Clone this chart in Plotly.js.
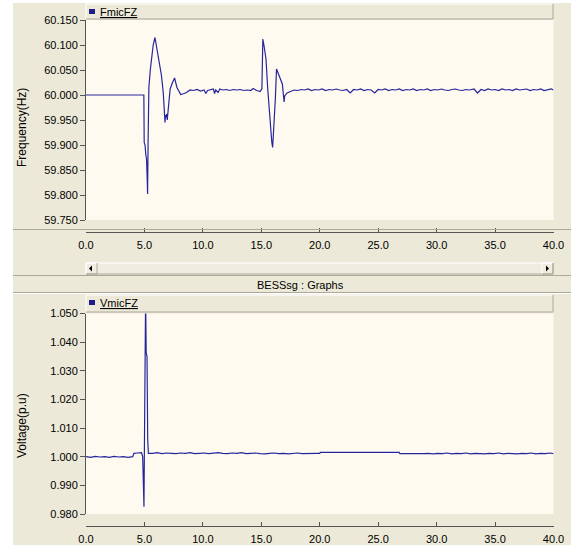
<!DOCTYPE html>
<html>
<head>
<meta charset="utf-8">
<script src="https://cdn.plot.ly/plotly-3.0.1.min.js"></script>
<style>
  html, body { margin: 0; padding: 0; background: #ECE9D8; }
  #graph { width: 571px; height: 545px; }
</style>
</head>
<body>
<div id="graph"></div>
<script>
// ---- Microgrid frequency (FmicFZ), Hz, against simulation time (s) ----
const freqTime = [
  0, 4.95, 4.98, 5.05, 5.12, 5.18, 5.24, 5.27, 5.31, 5.38, 5.5, 5.61, 5.75, 5.9,
  6.05, 6.27, 6.45, 6.61, 6.76, 6.8, 6.84, 6.9, 6.95, 7.05, 7.2, 7.4, 7.58, 7.78,
  8.1, 8.4, 8.6, 8.9, 9.2, 9.5, 9.8, 10.1, 10.25, 10.4, 10.7, 10.9, 11.0, 11.1,
  11.3, 11.45, 11.7, 12.0, 12.3, 12.6, 12.9, 13.2, 13.5, 13.8, 14.1, 14.3, 14.6,
  14.9, 15.05, 15.13, 15.23, 15.4, 15.55, 15.75, 15.9, 15.97, 16.1, 16.2, 16.3,
  16.45, 16.65, 16.8, 16.95, 17.0, 17.2, 17.5, 17.8, 18.1, 18.4, 18.7, 19.0,
  19.3, 19.6, 19.9, 20.2, 20.5, 20.8, 21.1, 21.4, 21.7, 22.0, 22.3, 22.6, 22.9,
  23.2, 23.5, 23.8, 24.1, 24.4, 24.7, 25.0, 25.3, 25.6, 25.9, 26.2, 26.5, 26.8,
  27.1, 27.4, 27.7, 28.0, 28.3, 28.6, 28.9, 29.2, 29.5, 29.8, 30.1, 30.4, 30.7,
  31.0, 31.3, 31.6, 31.9, 32.2, 32.5, 32.8, 33.2, 33.5, 33.8, 34.1, 34.4, 34.7,
  35.0, 35.3, 35.6, 35.9, 36.2, 36.5, 36.8, 37.1, 37.4, 37.7, 38.0, 38.3, 38.6,
  38.9, 39.2, 39.5, 39.8, 40.0
];
const freqHz = [
  60.000, 60.000, 59.905, 59.900, 59.880, 59.872, 59.830, 59.802, 59.900, 60.015,
  60.050, 60.079, 60.100, 60.115, 60.095, 60.069, 60.040, 60.005, 59.945, 59.960,
  59.955, 59.962, 59.950, 59.975, 60.012, 60.025, 60.034, 60.015, 60.001, 60.003,
  60.005, 60.010, 60.009, 60.011, 60.008, 60.010, 60.003, 60.009, 60.010, 60.012,
  60.003, 60.010, 60.005, 60.012, 60.010, 60.011, 60.009, 60.011, 60.010, 60.011,
  60.009, 60.010, 60.009, 60.013, 60.009, 60.007, 60.013, 60.112, 60.099, 60.072,
  60.012, 59.939, 59.905, 59.895, 59.940, 59.992, 60.052, 60.042, 60.032, 60.022,
  59.986, 59.998, 60.004, 60.007, 60.010, 60.009, 60.011, 60.010, 60.012, 60.009,
  60.011, 60.010, 60.012, 60.009, 60.011, 60.010, 60.012, 60.010, 60.009, 60.011,
  60.004, 60.011, 60.010, 60.012, 60.009, 60.011, 60.010, 60.004, 60.011, 60.010,
  60.012, 60.009, 60.011, 60.010, 60.012, 60.009, 60.011, 60.010, 60.012, 60.009,
  60.011, 60.010, 60.012, 60.009, 60.011, 60.010, 60.012, 60.010, 60.009, 60.011,
  60.012, 60.010, 60.009, 60.011, 60.010, 60.012, 60.004, 60.011, 60.009, 60.012,
  60.010, 60.011, 60.009, 60.012, 60.010, 60.011, 60.009, 60.012, 60.010, 60.011,
  60.012, 60.009, 60.011, 60.010, 60.012, 60.009, 60.011, 60.012, 60.010, 60.009
];

// ---- Microgrid voltage (VmicFZ), p.u., against simulation time (s) ----
const voltTime = [
  0, 0.4, 0.8, 1.2, 1.6, 2.0, 2.4, 2.8, 3.2, 3.6, 4.0, 4.1, 4.4, 4.75, 4.85, 4.92,
  4.96, 4.99, 5.04, 5.1, 5.15, 5.22, 5.28, 5.34, 5.7, 6.1, 6.5, 6.9, 7.3, 7.7,
  8.1, 8.5, 8.9, 9.3, 9.7, 10.1, 10.5, 10.9, 11.3, 11.7, 12.1, 12.5, 12.9, 13.3,
  13.7, 14.1, 14.5, 14.9, 15.3, 15.7, 16.1, 16.5, 16.9, 17.3, 17.7, 18.1, 18.5,
  18.9, 19.3, 19.7, 20.0, 20.05, 26.8, 26.85, 28.9, 29.3, 29.7, 30.1, 30.5,
  30.9, 31.3, 31.7, 32.1, 32.5, 32.9, 33.3, 33.7, 34.1, 34.5, 34.9, 35.3, 35.7,
  36.1, 36.5, 36.9, 37.3, 37.7, 38.1, 38.5, 38.9, 39.3, 39.7, 40.0
];
const voltPu = [
  1.0000, 0.9998, 1.0001, 0.9999, 1.0000, 0.9998, 1.0001, 0.9999, 1.0000, 0.9998,
  1.0000, 1.0012, 1.0013, 1.0014, 1.0000, 0.9918, 0.9825, 0.9990, 1.0350, 1.0560,
  1.0363, 1.0350, 1.0059, 1.0012, 1.0012, 1.0014, 1.0011, 1.0013, 1.0012, 1.0011,
  1.0013, 1.0012, 1.0014, 1.0011, 1.0012, 1.0013, 1.0011, 1.0012, 1.0014, 1.0012,
  1.0011, 1.0013, 1.0012, 1.0014, 1.0011, 1.0012, 1.0013, 1.0011, 1.0010, 1.0012,
  1.0013, 1.0011, 1.0012, 1.0010, 1.0012, 1.0013, 1.0011, 1.0012, 1.0011, 1.0012,
  1.0012, 1.0015, 1.0015, 1.0011, 1.0011, 1.0012, 1.0010, 1.0012, 1.0011, 1.0013,
  1.0010, 1.0012, 1.0011, 1.0013, 1.0010, 1.0012, 1.0011, 1.0010, 1.0012, 1.0011,
  1.0013, 1.0010, 1.0012, 1.0011, 1.0010, 1.0012, 1.0011, 1.0013, 1.0010, 1.0012,
  1.0011, 1.0013, 1.0011
];

// Axis ticks
const freqTicks = [59.75, 59.80, 59.85, 59.90, 59.95, 60.00, 60.05, 60.10, 60.15];
const voltTicks = [0.98, 0.99, 1.00, 1.01, 1.02, 1.03, 1.04, 1.05];
const timeTicks = [0, 5, 10, 15, 20, 25, 30, 35, 40];

// Panel labels
const freqName = 'FmicFZ';
const voltName = 'VmicFZ';
const freqTitle = 'Frequency(Hz)';
const voltTitle = 'Voltage(p.u)';
const windowTitle = 'BESSsg : Graphs';

// ---- page geometry helpers (pixel -> paper fraction) ----
const W = 571, H = 545;
const fx = x => x / W;
const fy = y => 1 - y / H;

const FACE = '#ECE9D8', SHADOW = '#ACA899', HILITE = '#FFFFFF';
const LINE = '#26269C';
const FONT = 'Liberation Sans, Arial, sans-serif';

function rect(x0, y0, x1, y1, fill, lineColor) {
  return { type: 'rect', xref: 'paper', yref: 'paper',
    x0: fx(x0), x1: fx(x1), y0: fy(y1), y1: fy(y0),
    fillcolor: fill, line: { width: lineColor ? 1 : 0, color: lineColor || fill } };
}
function hline(x0, x1, y, color) {
  return { type: 'line', xref: 'paper', yref: 'paper',
    x0: fx(x0), x1: fx(x1), y0: fy(y), y1: fy(y), line: { color: color, width: 1 } };
}
function vline(x, y0, y1, color) {
  return { type: 'line', xref: 'paper', yref: 'paper',
    x0: fx(x), x1: fx(x), y0: fy(y0), y1: fy(y1), line: { color: color, width: 1 } };
}
function bevel(x0, y0, x1, y1) {
  return [hline(x0, x1, y0, HILITE), vline(x0, y0, y1, HILITE),
          hline(x0, x1, y1, SHADOW), vline(x1, y0, y1, SHADOW)];
}
function tri(points) {
  const d = 'M' + points.map(p => fx(p[0]) + ',' + fy(p[1])).join(' L') + ' Z';
  return { type: 'path', xref: 'paper', yref: 'paper', path: d,
    fillcolor: '#000000', line: { width: 0 } };
}

const shapes = [
  // window frame: white strip on the left and top
  rect(0, 0, 13, H, '#FFFFFF'),
  rect(0, 0, W, 3, '#FFFFFF'),
  // legend header of the frequency panel
  ...bevel(86, 4, 553, 19),
  rect(89, 9, 95, 14, '#1C1C8C'),
  // panel separator
  hline(13, W, 229.5, SHADOW),
  // horizontal scrollbar
  rect(86, 263, 553, 274, '#EFEDE2'),
  ...bevel(86, 263, 553, 274),
  ...bevel(86, 263, 97, 274),
  ...bevel(542, 263, 553, 274),
  tri([[89, 268.5], [92, 265.5], [92, 271.5]]),
  tri([[549, 268.5], [546, 265.5], [546, 271.5]]),
  // caption bar of the graphs window
  hline(13, W, 275.5, SHADOW),
  hline(13, W, 292.5, SHADOW),
  hline(13, W, 293.5, HILITE),
  // legend header of the voltage panel
  ...bevel(86, 295, 553, 312),
  rect(89, 300, 95, 305, '#1C1C8C')
];

const annotations = [
  { text: '<u>' + freqName + '</u>', xref: 'paper', yref: 'paper',
    x: fx(98), y: fy(11.5), xanchor: 'left', yanchor: 'middle', showarrow: false,
    font: { family: FONT, size: 11, color: '#000000' } },
  { text: '<u>' + voltName + '</u>', xref: 'paper', yref: 'paper',
    x: fx(98), y: fy(303), xanchor: 'left', yanchor: 'middle', showarrow: false,
    font: { family: FONT, size: 11, color: '#000000' } },
  { text: windowTitle, xref: 'paper', yref: 'paper',
    x: fx(300), y: fy(284.5), xanchor: 'center', yanchor: 'middle', showarrow: false,
    font: { family: FONT, size: 11, color: '#000000' } },
  { text: freqTitle, xref: 'paper', yref: 'paper', textangle: -90,
    x: fx(22), y: fy(128), xanchor: 'center', yanchor: 'middle', showarrow: false,
    font: { family: FONT, size: 12, color: '#000000' } },
  { text: voltTitle, xref: 'paper', yref: 'paper', textangle: -90,
    x: fx(22), y: fy(426), xanchor: 'center', yanchor: 'middle', showarrow: false,
    font: { family: FONT, size: 12, color: '#000000' } }
];

const traces = [
  { x: freqTime, y: freqHz, xaxis: 'x', yaxis: 'y', type: 'scatter', mode: 'lines',
    line: { color: LINE, width: 1.2 }, name: freqName, hoverinfo: 'skip' },
  { x: voltTime, y: voltPu, xaxis: 'x2', yaxis: 'y2', type: 'scatter', mode: 'lines',
    line: { color: LINE, width: 1.2 }, name: voltName, hoverinfo: 'skip' }
];

const tickFont = { family: FONT, size: 11, color: '#000000' };
const xCommon = {
  range: [0, 40], tickvals: timeTicks, tickformat: '.1f', tickfont: tickFont,
  showgrid: false, zeroline: false, showline: true, linecolor: '#555555', linewidth: 1,
  ticks: 'inside', ticklen: 4, tickcolor: '#555555', ticklabelstandoff: 3,
  fixedrange: true
};
const yCommon = {
  tickformat: '.3f', tickfont: tickFont,
  showgrid: false, zeroline: false, showline: true, linecolor: '#555555', linewidth: 1,
  ticks: 'outside', ticklen: 5, tickcolor: '#555555', fixedrange: true
};

const layout = {
  width: W, height: H,
  margin: { l: 0, r: 0, t: 0, b: 0, pad: 0 },
  paper_bgcolor: FACE, plot_bgcolor: '#FFFAEF',
  showlegend: false,
  xaxis: Object.assign({}, xCommon, { domain: [fx(86), fx(553.5)], anchor: 'free', position: fy(232) }),
  yaxis: Object.assign({}, yCommon, { domain: [fy(220), fy(20)], anchor: 'x', range: [59.75, 60.15], tickvals: freqTicks }),
  xaxis2: Object.assign({}, xCommon, { domain: [fx(86), fx(553.5)], anchor: 'free', position: fy(526) }),
  yaxis2: Object.assign({}, yCommon, { domain: [fy(514), fy(313.5)], anchor: 'x2', range: [0.98, 1.05], tickvals: voltTicks }),
  shapes: shapes,
  annotations: annotations
};

Plotly.newPlot('graph', traces, layout, { staticPlot: true, displayModeBar: false });
</script>
</body>
</html>
